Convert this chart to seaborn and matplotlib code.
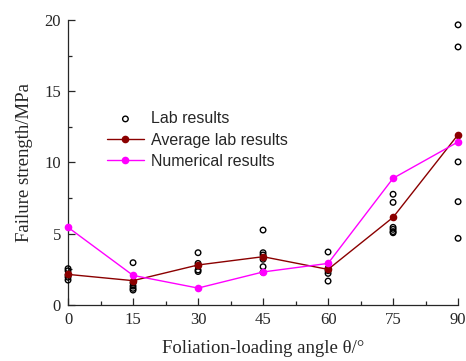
import numpy as np
import pandas as pd
import matplotlib
matplotlib.use("Agg")
import matplotlib.pyplot as plt
import seaborn as sns
from matplotlib.ticker import MultipleLocator

# ---- data ----
angles = [0, 15, 30, 45, 60, 75, 90]
lab_0 = [2.55, 2.4, 2.1, 1.95, 1.75]
lab_15 = [2.97, 1.55, 1.33, 1.17, 1.05]
lab_30 = [3.67, 2.92, 2.74, 2.46, 2.35]
lab_45 = [5.26, 3.67, 3.51, 3.21, 2.69, 2.3]
lab_60 = [3.72, 2.57, 2.41, 2.22, 1.68]
lab_75 = [7.77, 7.2, 5.45, 5.31, 5.15, 5.07]
lab_90 = [19.65, 18.1, 10.04, 7.25, 4.68]
avg_lab = [2.15, 1.71, 2.81, 3.39, 2.5, 6.15, 11.95]
numerical = [5.45, 2.08, 1.19, 2.32, 2.92, 8.89, 11.44]

x_ticks = [0, 15, 30, 45, 60, 75, 90]
y_ticks = [0, 5, 10, 15, 20]
x_label = "Foliation-loading angle θ/°"
y_label = "Failure strength/MPa"
labels = ["Lab results", "Average lab results", "Numerical results"]

lab_groups = [lab_0, lab_15, lab_30, lab_45, lab_60, lab_75, lab_90]
lab_df = pd.DataFrame(
    [(a, v) for a, vals in zip(angles, lab_groups) for v in vals],
    columns=["angle", "strength"],
)
avg_df = pd.DataFrame({"angle": angles, "strength": avg_lab})
num_df = pd.DataFrame({"angle": angles, "strength": numerical})

sns.set_style("ticks")
plt.rcParams["font.family"] = ["Liberation Serif", "DejaVu Serif"]
plt.rcParams["xtick.direction"] = "in"
plt.rcParams["ytick.direction"] = "in"

fig = plt.figure(figsize=(4.66, 3.61), dpi=100)
ax = fig.add_axes([0.146, 0.155, 0.837, 0.79])

sns.scatterplot(data=lab_df, x="angle", y="strength", ax=ax, marker="o",
                facecolor="none", edgecolor="black", linewidth=1.0, s=16,
                label=labels[0], clip_on=False, zorder=3)
sns.lineplot(data=avg_df, x="angle", y="strength", ax=ax, color="#8B0000",
             linewidth=1.0, marker="o", markersize=5.5, markeredgewidth=0,
             label=labels[1], clip_on=False, zorder=4)
sns.lineplot(data=num_df, x="angle", y="strength", ax=ax, color="#FF00FF",
             linewidth=1.0, marker="o", markersize=5.5, markeredgewidth=0,
             label=labels[2], clip_on=False, zorder=4)

ax.set_xlim(0, 90)
ax.set_ylim(0, 20)
ax.set_xticks(x_ticks)
ax.set_yticks(y_ticks)
ax.xaxis.set_minor_locator(MultipleLocator(7.5))
ax.yaxis.set_minor_locator(MultipleLocator(2.5))
ax.tick_params(which="major", length=5, width=0.9, labelsize=12, pad=5)
ax.tick_params(which="minor", length=3, width=0.9)
sns.despine(ax=ax)
for s in ["left", "bottom"]:
    ax.spines[s].set_linewidth(0.9)

ax.set_xlabel(x_label, fontsize=13.5, labelpad=9)
ax.set_ylabel(y_label, fontsize=13.5, labelpad=8)

leg = ax.legend(loc="upper left", bbox_to_anchor=(0.1, 0.68), frameon=False,
                prop={"family": "Liberation Sans", "size": 11.5},
                handlelength=2.3, handletextpad=0.45, labelspacing=0.4,
                borderpad=0, borderaxespad=0)

fig.savefig("out.png", dpi=100)
